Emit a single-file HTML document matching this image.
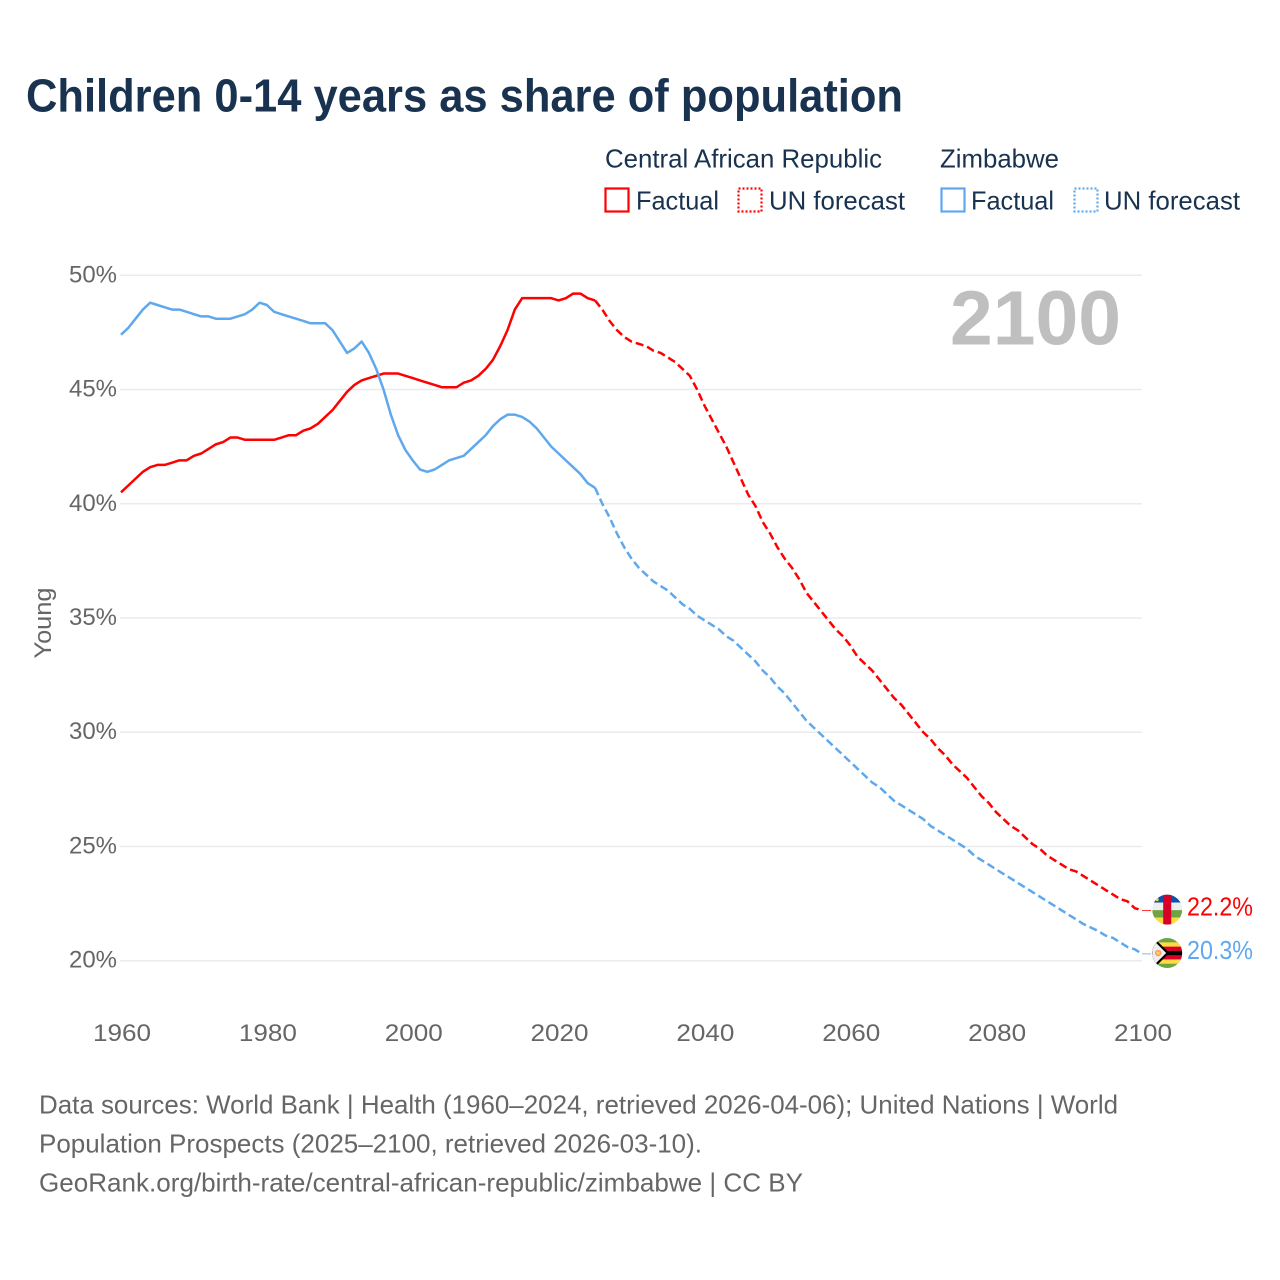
<!DOCTYPE html>
<html lang="en">
<head>
<meta charset="utf-8">
<title>Children 0-14 years as share of population</title>
<style>
html,body{margin:0;padding:0;background:#fff;}
svg{display:block;font-family:"Liberation Sans",sans-serif;}
</style>
</head>
<body>
<svg id="chart" width="1280" height="1280" viewBox="0 0 1280 1280" xmlns="http://www.w3.org/2000/svg">
  <defs>
    <clipPath id="flag-clip-car"><circle id="clip-car" r="15" cx="0" cy="0"/></clipPath>
    <clipPath id="flag-clip-zwe"><circle id="clip-zwe" r="15" cx="0" cy="0"/></clipPath>
  </defs>
  <rect width="1280" height="1280" fill="#fff"/>
  <text x="26" y="111.5" font-size="46" font-weight="700" fill="#18324f" textLength="877" lengthAdjust="spacingAndGlyphs">Children 0-14 years as share of population</text>

  <g font-size="26" fill="#18324f">
    <text x="605" y="167.5" textLength="277" lengthAdjust="spacingAndGlyphs">Central African Republic</text>
    <rect x="605.5" y="188.5" width="23" height="23" fill="none" stroke="#ff0000" stroke-width="2.2"/>
    <text x="636" y="209.5" textLength="83" lengthAdjust="spacingAndGlyphs">Factual</text>
    <rect x="738.5" y="188.5" width="23" height="23" fill="none" stroke="#ff0000" stroke-width="2.2" stroke-dasharray="2 2"/>
    <text x="769" y="209.5" textLength="136" lengthAdjust="spacingAndGlyphs">UN forecast</text>
    <text x="940" y="167.5" textLength="119" lengthAdjust="spacingAndGlyphs">Zimbabwe</text>
    <rect x="941.5" y="188.5" width="23" height="23" fill="none" stroke="#5fa8ee" stroke-width="2.2"/>
    <text x="971" y="209.5" textLength="83" lengthAdjust="spacingAndGlyphs">Factual</text>
    <rect x="1074.5" y="188.5" width="23" height="23" fill="none" stroke="#5fa8ee" stroke-width="2.2" stroke-dasharray="2 2"/>
    <text x="1104" y="209.5" textLength="136" lengthAdjust="spacingAndGlyphs">UN forecast</text>
  </g>

  <g id="grid"></g>
  <g id="y-axis" font-size="24" fill="#666"></g>
  <g id="x-axis" font-size="24" fill="#666"></g>
  <text transform="translate(51 623) rotate(-90)" text-anchor="middle" font-size="24" fill="#666" textLength="71" lengthAdjust="spacingAndGlyphs">Young</text>
  <text x="950" y="344.5" font-size="77" font-weight="700" fill="#bfbfbf" textLength="171" lengthAdjust="spacingAndGlyphs">2100</text>

  <g id="series"></g>

  <g id="flag-car">
    <g clip-path="url(#flag-clip-car)">
      <rect x="-15" y="-15" width="30" height="8" fill="#0b55a8"/>
      <rect x="-15" y="-7" width="30" height="7.5" fill="#eeeeee"/>
      <rect x="-15" y="0.5" width="30" height="7.5" fill="#6da544"/>
      <rect x="-15" y="8" width="30" height="7" fill="#ffda44"/>
      <rect x="-4" y="-15" width="8" height="30" fill="#d80027"/>
      <circle cx="-10" cy="-10" r="1.5" fill="#ffda44"/>
    </g>
  </g>
  <g id="flag-zwe">
    <g clip-path="url(#flag-clip-zwe)">
      <rect x="-15" y="-15" width="30" height="30" fill="#6da544"/>
      <rect x="-15" y="-10.7" width="30" height="21.4" fill="#ffda44"/>
      <rect x="-15" y="-6.4" width="30" height="12.8" fill="#d80027"/>
      <rect x="-15" y="-2.1" width="30" height="4.2" fill="#000"/>
      <polygon points="-15,-17 2,0 -15,17" fill="#000"/>
      <polygon points="-15,-14 -1,0 -15,14" fill="#eeeeee"/>
      <circle cx="-9" cy="0" r="3.2" fill="#ff9a6a"/>
      <circle cx="-9" cy="0" r="1.6" fill="#ffda44"/>
    </g>
  </g>

  <text id="label-car" x="1187" font-size="26" fill="#ff0000" textLength="66" lengthAdjust="spacingAndGlyphs"></text>
  <text id="label-zwe" x="1187" font-size="26" fill="#5fa8ee" textLength="66" lengthAdjust="spacingAndGlyphs"></text>

  <g font-size="26" fill="#666">
    <text x="39" y="1113.5" textLength="1079" lengthAdjust="spacingAndGlyphs">Data sources: World Bank | Health (1960–2024, retrieved 2026-04-06); United Nations | World</text>
    <text x="39" y="1152.5" textLength="663" lengthAdjust="spacingAndGlyphs">Population Prospects (2025–2100, retrieved 2026-03-10).</text>
    <text x="39" y="1191.5" textLength="764" lengthAdjust="spacingAndGlyphs">GeoRank.org/birth-rate/central-african-republic/zimbabwe | CC BY</text>
  </g>
</svg>
<script>
const yTicks = [20, 25, 30, 35, 40, 45, 50];
const xTicks = [1960, 1980, 2000, 2020, 2040, 2060, 2080, 2100];
const factualFirstYear = 1960;
const forecastFirstYear = 2025;
const carFactual = [40.5,40.8,41.1,41.4,41.6,41.7,41.7,41.8,41.9,41.9,42.1,42.2,42.4,42.6,42.7,42.9,42.9,42.8,42.8,42.8,42.8,42.8,42.9,43.0,43.0,43.2,43.3,43.5,43.8,44.1,44.5,44.9,45.2,45.4,45.5,45.6,45.7,45.7,45.7,45.6,45.5,45.4,45.3,45.2,45.1,45.1,45.1,45.3,45.4,45.6,45.9,46.3,46.9,47.6,48.5,49.0,49.0,49.0,49.0,49.0,48.9,49.0,49.2,49.2,49.0,48.9];
const carForecast = [48.9,48.5,48.0,47.6,47.3,47.1,47.0,46.9,46.7,46.6,46.4,46.2,45.9,45.6,45.0,44.3,43.7,43.1,42.5,41.8,41.1,40.4,39.9,39.2,38.7,38.1,37.6,37.2,36.7,36.1,35.7,35.3,34.9,34.5,34.2,33.8,33.3,33.0,32.7,32.3,31.9,31.5,31.2,30.8,30.4,30.0,29.7,29.3,29.0,28.6,28.3,28.0,27.6,27.2,26.9,26.5,26.2,25.9,25.7,25.4,25.1,24.9,24.6,24.4,24.2,24.0,23.9,23.7,23.5,23.3,23.1,22.9,22.7,22.6,22.3,22.2];
const zweFactual = [47.4,47.7,48.1,48.5,48.8,48.7,48.6,48.5,48.5,48.4,48.3,48.2,48.2,48.1,48.1,48.1,48.2,48.3,48.5,48.8,48.7,48.4,48.3,48.2,48.1,48.0,47.9,47.9,47.9,47.6,47.1,46.6,46.8,47.1,46.6,45.9,45.0,43.9,43.0,42.35,41.9,41.5,41.4,41.5,41.7,41.9,42.0,42.1,42.4,42.7,43.0,43.4,43.7,43.9,43.9,43.8,43.6,43.3,42.9,42.5,42.2,41.9,41.6,41.3,40.9,40.7];
const zweForecast = [40.7,40.0,39.4,38.7,38.1,37.6,37.2,36.9,36.6,36.4,36.2,35.9,35.6,35.4,35.1,34.9,34.7,34.5,34.2,34.0,33.7,33.4,33.1,32.7,32.4,32.0,31.7,31.3,30.9,30.5,30.2,29.9,29.6,29.3,29.0,28.7,28.4,28.1,27.8,27.6,27.3,27.0,26.8,26.6,26.4,26.2,25.9,25.7,25.5,25.3,25.1,24.9,24.6,24.4,24.2,24.0,23.8,23.6,23.4,23.2,23.0,22.8,22.6,22.4,22.2,22.0,21.8,21.6,21.45,21.3,21.1,21.0,20.8,20.6,20.5,20.3];

const NS = 'http://www.w3.org/2000/svg';
const RED = '#ff0000';
const BLUE = '#5fa8ee';
const DASH = '8 4';

function xScale(year) { return 121 + (year - 1960) * (1142 - 121) / 140; }
function yScale(v) { return 960.7 - (v - 20) * (960.7 - 275.3) / 30; }

function make(tag, attrs, parent) {
  const el = document.createElementNS(NS, tag);
  Object.keys(attrs).forEach(function (k) { el.setAttribute(k, attrs[k]); });
  parent.appendChild(el);
  return el;
}

const grid = document.getElementById('grid');
const yAxis = document.getElementById('y-axis');
const xAxis = document.getElementById('x-axis');
const series = document.getElementById('series');

yTicks.forEach(function (t) {
  const line = make('line', { x1: 120, x2: 1142, y1: yScale(t), y2: yScale(t), stroke: '#ebebeb', 'stroke-width': 1.5 }, grid);
  
  
  const label = make('text', { x: 117, y: yScale(t) + 7, 'text-anchor': 'end', textLength: 48, lengthAdjust: 'spacingAndGlyphs' }, yAxis);
  label.textContent = t + '%';
  
  
});

xTicks.forEach(function (t) {
  const label = make('text', { x: xScale(t) + 1, y: 1041, 'text-anchor': 'middle', textLength: 58, lengthAdjust: 'spacingAndGlyphs' }, xAxis);
  label.textContent = String(t);
  
  
});

function linePoints(values, firstYear) {
  return values.map(function (v, i) {
    return xScale(firstYear + i).toFixed(2) + ',' + yScale(v).toFixed(2);
  }).join(' ');
}

function drawLine(values, firstYear, color, dashed) {
  const attrs = { points: linePoints(values, firstYear), fill: 'none', stroke: color, 'stroke-width': 2.5, 'stroke-linejoin': 'round' };
  if (dashed) { attrs['stroke-dasharray'] = DASH; }
  return make('polyline', attrs, series);
}

const carFactualLine = drawLine(carFactual, factualFirstYear, RED, false);


const carForecastLine = drawLine(carForecast, forecastFirstYear, RED, true);


const zweFactualLine = drawLine(zweFactual, factualFirstYear, BLUE, false);


const zweForecastLine = drawLine(zweForecast, forecastFirstYear, BLUE, true);



function placeEnd(values, flagId, labelId, color) {
  const last = values[values.length - 1];
  const y = yScale(last);
  const x = xScale(2100);
  const connector = make('line', { x1: x, x2: x + 9, y1: y, y2: y, stroke: color, 'stroke-width': 1, opacity: 0.8 }, series);
  document.getElementById(flagId).setAttribute('transform', 'translate(1167.2 ' + (y - 0.8) + ')');
  const label = document.getElementById(labelId);
  label.setAttribute('y', y + 5);
  label.textContent = last.toFixed(1) + '%';
  return connector;
}

const carConnector = placeEnd(carForecast, 'flag-car', 'label-car', RED);


const zweConnector = placeEnd(zweForecast, 'flag-zwe', 'label-zwe', BLUE);


</script>
</body>
</html>
